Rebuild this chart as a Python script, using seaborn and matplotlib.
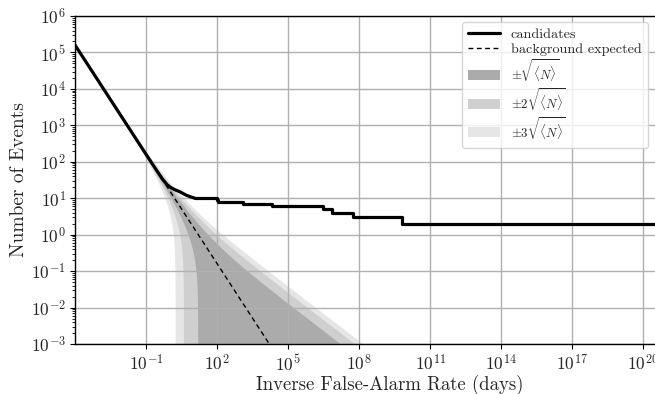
import numpy as np
import matplotlib
matplotlib.use("Agg")
import matplotlib.pyplot as plt
import matplotlib.ticker as mticker
from matplotlib.patches import Patch
from matplotlib.lines import Line2D
import seaborn as sns

# ---- data ----
# candidates: smooth high-count part
cand_ifar = [1e-4, 1e-3, 1e-2, 1e-1, 0.3, 0.5, 0.8, 1.2, 1.7, 2.7, 5.1, 8.0, 11.5]
cand_count = [1.6e5, 1.6e4, 1.6e3, 160, 54, 33, 23, 19, 17, 15, 12, 10.8, 10]
# candidates: stepped low-count part
step_ifar = [11.5, 95, 112, 1.26e3, 2.0e4, 3.0e6, 6.8e6, 5.5e7, 6.3e9, 1e23]
step_count = [10, 9, 8, 7, 6, 5, 4, 3, 2, 2]
# expected background (straight line in log-log)
bg_ifar = [1e-4, 1e9]
bg_count = [1.6e5, 1.6e-8]
# sigma levels for the bands
sigma_levels = [3, 2, 1]
band_labels = {1: r'$\pm\sqrt{\langle N\rangle}$',
               2: r'$\pm2\sqrt{\langle N\rangle}$',
               3: r'$\pm3\sqrt{\langle N\rangle}$'}
band_colors = {1: '#ababab', 2: '#cfcfcf', 3: '#e6e6e6'}
xtick_vals = [1e-1, 1e2, 1e5, 1e8, 1e11, 1e14, 1e17, 1e20]

sns.set_style("ticks")
plt.rcParams['font.family'] = ['serif']
plt.rcParams['font.serif'] = ['cmr10', 'DejaVu Serif']
plt.rcParams['mathtext.fontset'] = 'cm'
plt.rcParams['axes.formatter.use_mathtext'] = True

W, H = 655, 394
fig = plt.figure(figsize=(W/100, H/100), dpi=100)
# the original axes runs past the right edge of the (cropped) picture
ax = fig.add_axes([75/W, 50/H, (705-75)/W, (344-16)/H])
ax.set_xscale('log')
ax.set_yscale('log')

# bands from the expected background
gx = np.logspace(np.log10(bg_ifar[0]), np.log10(bg_ifar[-1]), 3000)
gN = np.exp(np.interp(np.log(gx), np.log(bg_ifar), np.log(bg_count)))
for k in sigma_levels:
    lo = gN - k*np.sqrt(gN)
    lo = np.where(lo > 0, lo, 1e-12)
    hi = gN + k*np.sqrt(gN)
    ax.fill_between(gx, lo, hi, color=band_colors[k], lw=0, zorder=0.5)

sns.lineplot(x=bg_ifar, y=bg_count, ax=ax, color='k', lw=1.0,
             linestyle=(0, (3.5, 2.5)), zorder=2)
sns.lineplot(x=cand_ifar, y=cand_count, ax=ax, color='k', lw=2.3, zorder=3)
sns.lineplot(x=step_ifar, y=step_count, ax=ax, color='k', lw=2.3,
             drawstyle='steps-post', zorder=3)

ax.set_xlim(1e-4, 10**22.6)
ax.set_ylim(1e-3, 1e6)

ax.xaxis.set_major_locator(mticker.FixedLocator(xtick_vals))
ax.xaxis.set_major_formatter(mticker.LogFormatterMathtext())
ax.xaxis.set_minor_locator(mticker.NullLocator())
ax.yaxis.set_major_locator(mticker.LogLocator(base=10, numticks=20))
ax.yaxis.set_minor_locator(mticker.LogLocator(base=10, subs=np.arange(2, 10), numticks=20))
ax.yaxis.set_minor_formatter(mticker.NullFormatter())
ax.tick_params(axis='both', which='major', labelsize=12.5, length=3.5, width=0.8,
               color='k', pad=3)
ax.tick_params(axis='y', which='minor', length=2, width=0.6, color='k')

ax.grid(True, which='major', color='#b0b0b0', lw=1.0)
for s in ax.spines.values():
    s.set_color('k')
    s.set_linewidth(1.0)

ax.set_xlabel('Inverse False-Alarm Rate (days)', fontsize=13.5, labelpad=1)
ax.set_ylabel('Number of Events', fontsize=14, labelpad=2)

handles = [Line2D([], [], color='k', lw=2.3),
           Line2D([], [], color='k', lw=1.0, linestyle=(0, (3.5, 2.5)))]
labels = ['candidates', 'background expected']
for k in [1, 2, 3]:
    handles.append(Patch(facecolor=band_colors[k], edgecolor='none'))
    labels.append(band_labels[k])
leg = ax.legend(handles, labels, loc='upper right',
                bbox_to_anchor=(648/W, (H-22)/H), bbox_transform=fig.transFigure,
                fontsize=10.2, frameon=True,
                framealpha=0.8, edgecolor='#cccccc', fancybox=True,
                borderaxespad=0.0, labelspacing=0.12, handlelength=2.2,
                borderpad=0.45)
for t in leg.get_texts()[2:]:
    t.set_fontsize(9.2)

fig.savefig('out.png', dpi=100)
